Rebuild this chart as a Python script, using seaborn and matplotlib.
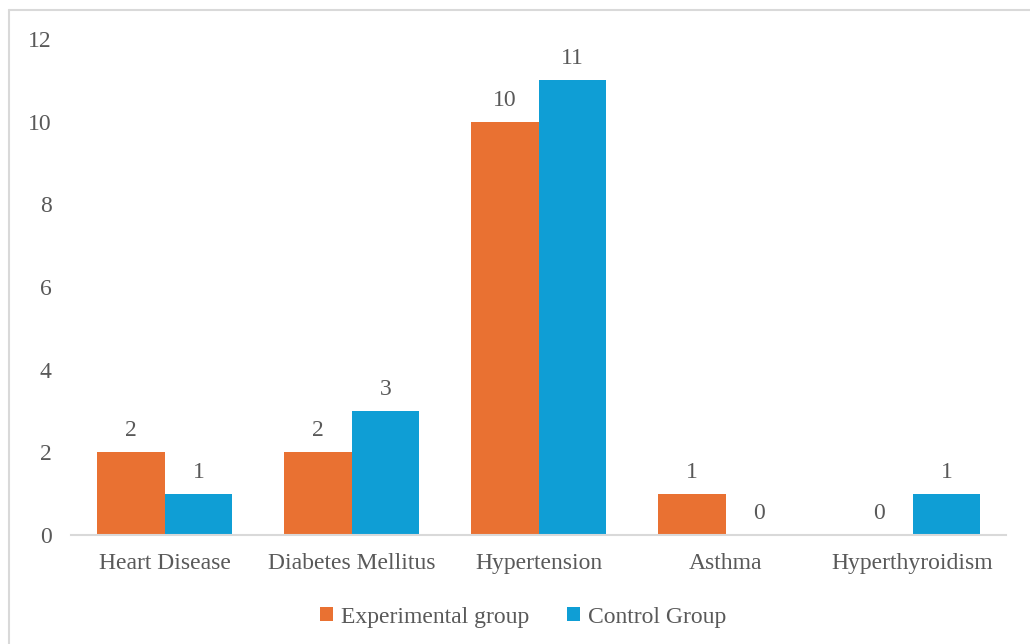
import matplotlib
matplotlib.use("Agg")
import matplotlib.pyplot as plt
from matplotlib.lines import Line2D
from matplotlib.patches import Patch
import seaborn as sns
import pandas as pd

categories = ["Heart Disease", "Diabetes Mellitus", "Hypertension", "Asthma", "Hyperthyroidism"]
experimental = [2, 2, 10, 1, 0]
control = [1, 3, 11, 0, 1]
series_names = ["Experimental group", "Control Group"]
y_ticks = [0, 2, 4, 6, 8, 10, 12]

colors = ["#E97132", "#0F9ED5"]
text_color = "#595959"
line_color = "#D9D9D9"
fs = 17

df = pd.DataFrame({
    "Condition": categories * 2,
    "Group": [series_names[0]] * len(categories) + [series_names[1]] * len(categories),
    "Count": experimental + control,
})

sns.set_theme(style="white")
plt.rcParams["font.family"] = ["Liberation Serif", "DejaVu Serif"]

fig = plt.figure(figsize=(10.30, 6.44), dpi=100)
ax = fig.add_axes([71 / 1030, 1 - 535 / 644, (1006 - 71) / 1030, (535 - 39) / 644])

sns.barplot(data=df, x="Condition", y="Count", hue="Group", order=categories,
            hue_order=series_names, palette=colors, width=0.727, gap=0,
            saturation=1, linewidth=0, ax=ax, legend=False)

for container in ax.containers:
    ax.bar_label(container, padding=8, fontsize=fs, color=text_color)

ax.set_ylim(0, 12)
ax.set_xlim(-0.5, len(categories) - 0.5)
ax.set_yticks(y_ticks)
ax.set_xlabel("")
ax.set_ylabel("")
ax.tick_params(axis="y", length=0, pad=14, labelsize=fs, labelcolor=text_color)
ax.tick_params(axis="x", length=0, pad=13, labelsize=fs, labelcolor=text_color)
for side in ["top", "right", "left"]:
    ax.spines[side].set_visible(False)
ax.spines["bottom"].set_color(line_color)
ax.spines["bottom"].set_linewidth(1.5)
ax.grid(False)

handles = [Patch(facecolor=c, edgecolor="none") for c in colors]
fig.legend(handles, series_names, loc="center", bbox_to_anchor=(523 / 1030, 1 - 617 / 644),
           ncol=2, frameon=False, fontsize=fs, labelcolor=text_color,
           handlelength=0.55, handleheight=0.55, handletextpad=0.35, columnspacing=1.6)

# chart area border
fig.add_artist(Line2D([9 / 1030, 9 / 1030], [0, 1 - 10 / 644], color=line_color, lw=1.5))
fig.add_artist(Line2D([9 / 1030, 1], [1 - 10 / 644, 1 - 10 / 644], color=line_color, lw=1.5))

fig.savefig("out.png", dpi=100, facecolor="white")
